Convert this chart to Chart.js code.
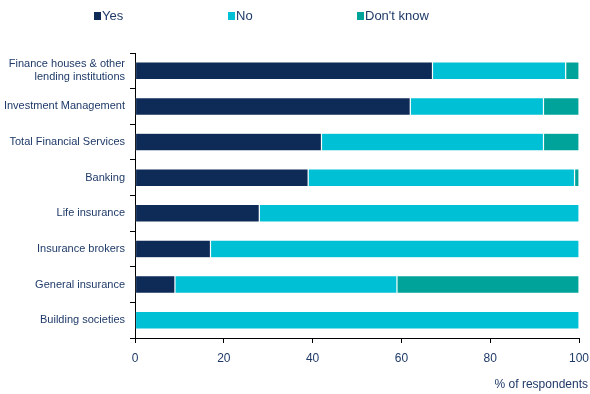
<!DOCTYPE html>
<html>
<head>
<meta charset="utf-8">
<script src="https://cdn.jsdelivr.net/npm/chart.js@4"></script>
<style>
  html, body { margin: 0; padding: 0; background: #fff; }
  #wrap { width: 590px; height: 394px; }
</style>
</head>
<body>
<div id="wrap"><canvas id="c" width="590" height="394"></canvas></div>
<script>
const categories = [
  ["Finance houses & other", "lending institutions"],
  "Investment Management",
  "Total Financial Services",
  "Banking",
  "Life insurance",
  "Insurance brokers",
  "General insurance",
  "Building societies"
];
const seriesNames = ["Yes", "No", "Don't know"];
const yesValues = [67, 62, 42, 39, 28, 17, 9, 0];
const noValues = [30, 30, 50, 60, 72, 83, 50, 100];
const dontKnowValues = [3, 8, 8, 1, 0, 0, 41, 0];
const xTicks = [0, 20, 40, 60, 80, 100];
const xTitle = "% of respondents";

const colors = ["#0e2a57", "#00c0d5", "#00a39a"];
const textColor = "#1f3a68";
const FONT = "'Liberation Sans', Arial, sans-serif";

const legendPlugin = {
  id: 'customLegend',
  afterDraw(chart) {
    const ctx = chart.ctx;
    const xs = [94, 228, 357];
    ctx.save();
    ctx.font = "13px " + FONT;
    ctx.textBaseline = 'middle';
    chart.data.datasets.forEach((ds, i) => {
      ctx.fillStyle = ds.backgroundColor;
      ctx.fillRect(xs[i], 12, 7, 8);
      ctx.fillStyle = textColor;
      ctx.fillText(ds.label, xs[i] + 8, 16.5);
    });
    // x-axis title, right aligned past the last tick label as in the original
    ctx.font = "12px " + FONT;
    ctx.textAlign = 'right';
    ctx.fillText(xTitle, chart.scales.x.right + 9, 385);
    ctx.restore();
  }
};

new Chart(document.getElementById('c'), {
  type: 'bar',
  data: {
    labels: categories,
    datasets: [
      { label: seriesNames[0], data: yesValues, backgroundColor: colors[0] },
      { label: seriesNames[1], data: noValues, backgroundColor: colors[1] },
      { label: seriesNames[2], data: dontKnowValues, backgroundColor: colors[2] }
    ]
  },
  options: {
    indexAxis: 'y',
    responsive: false,
    animation: false,
    devicePixelRatio: 1,
    layout: { padding: { top: 53, right: 11, left: 0, bottom: 0 } },
    datasets: {
      bar: {
        categoryPercentage: 0.5,
        barPercentage: 1,
        borderWidth: 0.6,
        borderColor: 'rgba(255,255,255,0.45)',
        borderSkipped: false
      }
    },
    plugins: {
      legend: { display: false },
      tooltip: { enabled: false }
    },
    scales: {
      x: {
        stacked: true,
        min: 0,
        max: 100,
        afterBuildTicks(axis) { axis.ticks = xTicks.map(v => ({ value: v })); },
        afterFit(axis) { axis.height = 56; axis.paddingRight = 0; axis.paddingLeft = 0; },
        grid: { display: true, drawOnChartArea: false, drawTicks: true, tickLength: 5, color: '#000' },
        border: { display: true, color: '#000', width: 1 },
        ticks: { color: textColor, font: { size: 12, family: FONT }, padding: 8, maxRotation: 0 },
        title: { display: false, text: xTitle }
      },
      y: {
        stacked: true,
        afterFit(axis) { axis.width = 135; axis.paddingTop = 0; axis.paddingBottom = 0; },
        grid: { display: true, offset: true, drawOnChartArea: false, drawTicks: true, tickLength: 5, color: '#000' },
        border: { display: true, color: '#000', width: 1 },
        ticks: { color: textColor, font: { size: 11, family: FONT }, padding: 5, crossAlign: 'near', autoSkip: false }
      }
    }
  },
  plugins: [legendPlugin]
});
</script>
</body>
</html>
